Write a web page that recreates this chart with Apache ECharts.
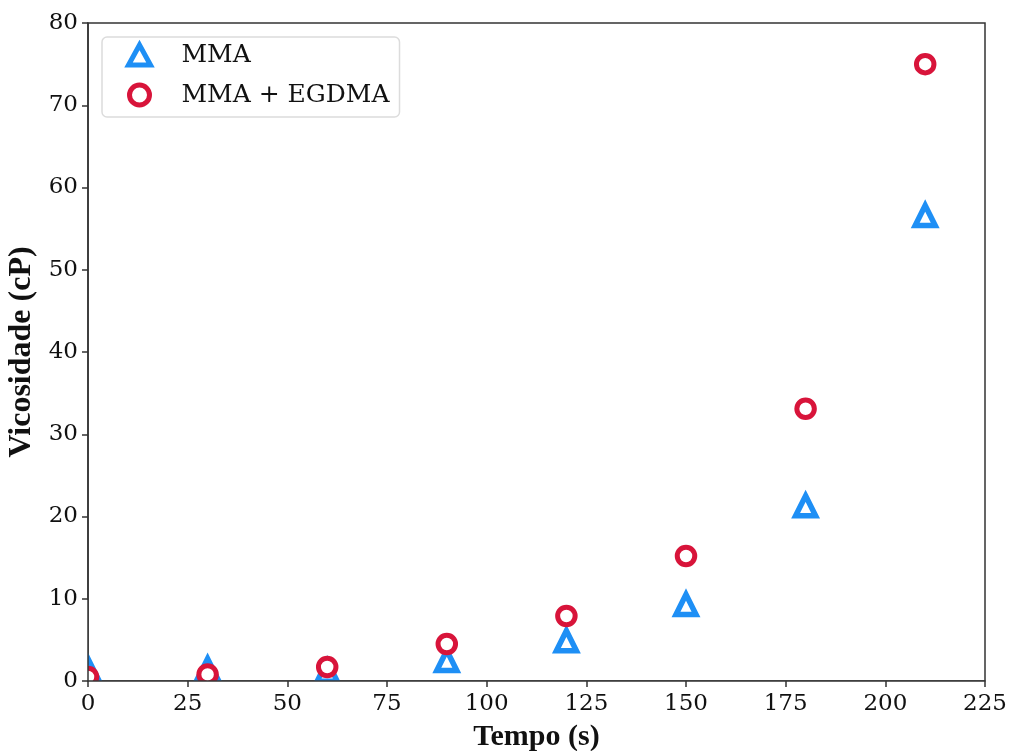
<!DOCTYPE html>
<html>
<head>
<meta charset="utf-8">
<script src="https://cdn.jsdelivr.net/npm/echarts@6/dist/echarts.min.js"></script>
<style>
  html, body { margin: 0; padding: 0; background: #fff; }
  #chart { width: 1010px; height: 751px; }
</style>
</head>
<body>
<div id="chart"></div>
<script>
// tempo (s)
const tempo = [0, 30, 60, 90, 120, 150, 180, 210];
// viscosidade (cP)
const mma = [1.5, 1.5, 1.2, 2.5, 4.9, 9.3, 21.3, 56.6];
const mmaEgdma = [0.5, 0.8, 1.7, 4.5, 7.9, 15.2, 33.1, 75.0];

const blue = '#1e8ff5';
const red = '#d8143a';
const serif = 'DejaVu Serif';
const boldSerif = 'Liberation Serif';

const chart = echarts.init(document.getElementById('chart'));

chart.setOption({
  animation: false,
  backgroundColor: '#fff',
  grid: {
    left: 88, right: 25, top: 23, bottom: 70,
    containLabel: false,
    outerBoundsMode: 'none',
    show: true,
    borderColor: '#333',
    borderWidth: 1.5
  },
  // white strips outside the plot area so markers look clipped at the axes
  graphic: [
    { type: 'rect', z: 5, shape: { x: 0, y: 600, width: 88, height: 151 }, style: { fill: '#fff' } },
    { type: 'rect', z: 5, shape: { x: 0, y: 681, width: 1010, height: 70 }, style: { fill: '#fff' } }
  ],
  legend: {
    orient: 'vertical',
    left: 102, top: 37,
    padding: [4, 10, 8, 24],
    itemGap: 12,
    itemWidth: 22, itemHeight: 20,
    backgroundColor: '#fff',
    borderColor: '#dcdcdc',
    borderWidth: 1.5,
    borderRadius: 5,
    z: 20,
    textStyle: { fontFamily: serif, fontSize: 25, lineHeight: 28, color: '#111', padding: [0, 0, 0, 26] },
    data: [
      { name: 'MMA', itemStyle: { color: '#fff', borderColor: blue, borderWidth: 5, opacity: 1 } },
      { name: 'MMA + EGDMA', itemStyle: { color: '#fff', borderColor: red, borderWidth: 5, opacity: 1 } }
    ]
  },
  xAxis: {
    type: 'value',
    z: 10,
    min: 0, max: 225, interval: 25,
    name: 'Tempo (s)',
    nameLocation: 'middle',
    nameGap: 41,
    nameTextStyle: { fontFamily: boldSerif, fontWeight: 'bold', fontSize: 30, color: '#111' },
    axisLine: { show: true, onZero: false, lineStyle: { color: '#333', width: 1.5 } },
    axisTick: { show: true, inside: false, length: 6, lineStyle: { color: '#333', width: 1.5 } },
    axisLabel: { fontFamily: serif, fontSize: 23, color: '#111', margin: 12 },
    splitLine: { show: false }
  },
  yAxis: {
    type: 'value',
    z: 10,
    min: 0, max: 80, interval: 10,
    name: 'Vicosidade (cP)',
    nameLocation: 'middle',
    nameGap: 49,
    nameTextStyle: { fontFamily: boldSerif, fontWeight: 'bold', fontSize: 32, color: '#111' },
    axisLine: { show: true, onZero: false, lineStyle: { color: '#333', width: 1.5 } },
    axisTick: { show: true, inside: false, length: 6, lineStyle: { color: '#333', width: 1.5 } },
    axisLabel: { fontFamily: serif, fontSize: 23, color: '#111', margin: 10 },
    splitLine: { show: false }
  },
  series: [
    {
      name: 'MMA',
      type: 'scatter',
      symbol: 'triangle',
      symbolSize: 20,
      itemStyle: { color: '#fff', borderColor: blue, borderWidth: 5.5, opacity: 1 },
      data: tempo.map((t, i) => [t, mma[i]])
    },
    {
      name: 'MMA + EGDMA',
      type: 'scatter',
      symbol: 'circle',
      symbolSize: 17.5,
      itemStyle: { color: '#fff', borderColor: red, borderWidth: 5, opacity: 1 },
      data: tempo.map((t, i) => [t, mmaEgdma[i]])
    }
  ]
});
</script>
</body>
</html>
